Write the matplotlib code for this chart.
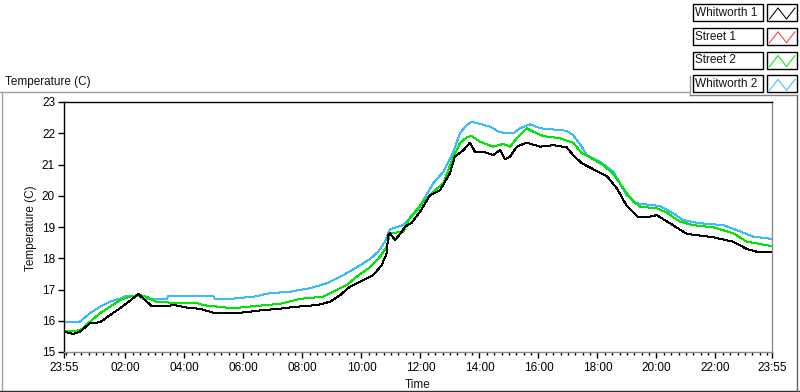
import matplotlib
matplotlib.use("Agg")
import matplotlib.pyplot as plt
from matplotlib.lines import Line2D
from matplotlib.patches import Rectangle
import numpy as np

plt.rcParams['font.family'] = ['Liberation Sans', 'DejaVu Sans']

# ---------------- data (hours elapsed since 23:55, temperature in C) ----------------
series_names = ["Whitworth 1", "Street 1", "Street 2", "Whitworth 2"]
series_colors = ["#000000", "#ff3c3c", "#00e600", "#3cbcf4"]

whitworth1_t = [0.00, 0.32, 0.54, 0.88, 1.22, 1.56, 1.90, 2.24, 2.52, 2.75, 2.97, 3.42, 3.76,
                4.16, 4.61, 5.06, 5.63, 6.14, 6.64, 7.26, 7.89, 8.57, 9.02, 9.36, 9.69, 10.15,
                10.48, 10.77, 10.94, 10.99, 11.05, 11.22, 11.39, 11.56, 11.79, 12.07, 12.41,
                12.75, 13.08, 13.25, 13.54, 13.76, 13.93, 14.21, 14.55, 14.78, 14.95, 15.12,
                15.35, 15.68, 16.14, 16.59, 17.04, 17.26, 17.55, 17.94, 18.40, 18.74, 19.07,
                19.47, 19.86, 20.09, 20.54, 21.11, 22.01, 22.69, 23.14, 23.48, 24.00]
whitworth1_v = [15.65, 15.58, 15.65, 15.92, 15.95, 16.18, 16.40, 16.64, 16.86, 16.66, 16.47, 16.47, 16.50,
                16.42, 16.38, 16.26, 16.24, 16.27, 16.33, 16.38, 16.45, 16.50, 16.61, 16.82, 17.09, 17.30,
                17.46, 17.78, 18.16, 18.74, 18.80, 18.58, 18.77, 19.01, 19.14, 19.49, 20.02,
                20.18, 20.72, 21.25, 21.46, 21.70, 21.41, 21.41, 21.30, 21.46, 21.17, 21.25,
                21.57, 21.70, 21.57, 21.62, 21.55, 21.30, 21.04, 20.85, 20.63, 20.24, 19.68,
                19.31, 19.33, 19.38, 19.12, 18.78, 18.67, 18.53, 18.30, 18.21, 18.19]

street1_t = []
street1_v = []

street2_t = [0.00, 0.43, 0.65, 0.88, 1.22, 1.56, 1.90, 2.24, 2.52, 2.80, 3.14, 4.50, 4.72, 5.73,
             6.47, 7.32, 7.55, 8.00, 8.79, 9.24, 9.58, 9.92, 10.37, 10.71, 10.94, 11.05, 11.50,
             11.73, 12.18, 12.52, 12.86, 13.20, 13.42, 13.65, 13.82, 14.10, 14.55, 14.89, 15.12,
             15.35, 15.68, 15.91, 16.25, 16.81, 17.26, 17.55, 17.83, 18.28, 18.62, 18.96, 19.30,
             19.53, 20.09, 20.43, 20.88, 21.33, 22.01, 22.69, 23.14, 24.00]
street2_v = [15.67, 15.67, 15.76, 15.97, 16.24, 16.45, 16.66, 16.77, 16.83, 16.77, 16.59, 16.57, 16.50, 16.40,
             16.47, 16.54, 16.59, 16.70, 16.77, 16.98, 17.14, 17.41, 17.71, 18.05, 18.37, 18.80, 18.85,
             19.30, 19.81, 20.13, 20.40, 21.25, 21.68, 21.87, 21.91, 21.73, 21.57, 21.66, 21.57,
             21.84, 22.16, 22.05, 21.91, 21.84, 21.70, 21.36, 21.23, 20.98, 20.70, 20.24, 19.81,
             19.65, 19.60, 19.46, 19.17, 19.06, 18.99, 18.80, 18.53, 18.39]

whitworth2_t = [0.00, 0.54, 0.88, 1.22, 1.56, 1.90, 2.13, 2.52, 2.69, 3.48, 3.54, 5.06, 5.12,
                5.63, 6.42, 6.98, 7.66, 8.34, 8.91, 9.47, 9.92, 10.37, 10.65, 10.88, 11.05, 11.50,
                11.73, 12.01, 12.18, 12.52, 12.86, 13.20, 13.42, 13.65, 13.82, 14.10, 14.44, 14.78,
                15.23, 15.46, 15.80, 16.14, 16.81, 17.04, 17.26, 17.55, 17.72, 18.17, 18.62, 19.07,
                19.41, 20.20, 20.65, 20.98, 21.56, 22.35, 22.80, 23.37, 24.00]
whitworth2_v = [15.97, 15.97, 16.24, 16.45, 16.61, 16.71, 16.80, 16.80, 16.69, 16.69, 16.80, 16.80, 16.69,
                16.70, 16.77, 16.88, 16.93, 17.04, 17.20, 17.46, 17.71, 17.97, 18.21, 18.53, 18.93, 19.06,
                19.30, 19.55, 19.86, 20.40, 20.77, 21.41, 22.00, 22.26, 22.37, 22.30, 22.21, 22.03,
                22.00, 22.16, 22.29, 22.16, 22.10, 22.08, 21.94, 21.57, 21.30, 21.09, 20.77, 20.02,
                19.76, 19.67, 19.44, 19.22, 19.12, 19.06, 18.90, 18.69, 18.62]

x_tick_labels = ["23:55", "02:00", "04:00", "06:00", "08:00", "10:00", "12:00",
                 "14:00", "16:00", "18:00", "20:00", "22:00", "23:55"]
y_ticks = [15, 16, 17, 18, 19, 20, 21, 22, 23]

# ---------------- figure ----------------
W, H = 800, 392
fig = plt.figure(figsize=(W / 100, H / 100), dpi=100)
fig.patch.set_facecolor("white")

def fx(x):
    return x / W

def fy(y):
    return 1 - y / H

ax = fig.add_axes([fx(64), fy(352), (772 - 64) / W, (352 - 102) / H])

series = [(whitworth2_t, whitworth2_v, 3), (street2_t, street2_v, 2),
          (street1_t, street1_v, 1), (whitworth1_t, whitworth1_v, 0)]
for t, v, i in series:
    ax.plot(t, v, color=series_colors[i], lw=0.72, antialiased=False)

start_min = 23 * 60 + 55
def to_hours(lbl, idx):
    h, m = map(int, lbl.split(":"))
    val = ((h * 60 + m - start_min) % 1440) / 60.0
    if idx == len(x_tick_labels) - 1:
        val = 24.0
    return val

major_pos = [to_hours(l, i) for i, l in enumerate(x_tick_labels)]
minor_pos = [p for p in np.arange(5 / 60, 24, 0.25) if min(abs(p - q) for q in major_pos) > 1e-6]

ax.set_xlim(0, 24)
ax.set_ylim(15, 23)
ax.set_xticks(major_pos)
ax.set_xticklabels(x_tick_labels)
ax.set_xticks(minor_pos, minor=True)
ax.set_yticks(y_ticks)
ax.set_yticklabels([str(v) for v in y_ticks])

ax.tick_params(axis="x", which="major", direction="out", length=4.5, width=1,
               labelsize=8.5, pad=3, color="#000000")
ax.tick_params(axis="x", which="minor", direction="out", length=2.5, width=1, color="#000000")
ax.tick_params(axis="y", which="major", direction="out", length=4, width=1,
               labelsize=8.5, pad=2.5, color="#000000")

ax.spines["left"].set_color("#000000")
ax.spines["top"].set_color("#000000")
ax.spines["right"].set_color("#8c8c8c")
ax.spines["bottom"].set_color("#8c8c8c")
for s in ax.spines.values():
    s.set_linewidth(1)

fig.text(fx(31), fy(228), "Temperature (C)", rotation=90, ha="center", va="center",
         fontsize=8.5, color="#1a1010")
fig.text(fx(418), fy(385), "Time", ha="center", va="center", fontsize=8.5, color="#1a1010")
fig.text(fx(5), fy(82), "Temperature (C)", ha="left", va="center", fontsize=8.5, color="#1a1010")

# ---------------- frame lines ----------------
def fline(xs, ys, color, lw=1.0):
    fig.add_artist(Line2D([fx(x) for x in xs], [fy(y) for y in ys],
                          transform=fig.transFigure, color=color, lw=lw))

fline([0, 689], [92, 92], "#a0a0a0")
fline([1.5, 1.5], [92, 390], "#a0a0a0")
fline([0, 799], [390.5, 390.5], "#303030")
fline([797, 797], [95, 390.5], "#606060")
fline([690, 690], [76, 95], "#a0a0a0")
fline([690, 797], [95, 95], "#808080")

# ---------------- legend ----------------
for i, name in enumerate(series_names):
    top = 4 + i * 23.8
    fig.add_artist(Rectangle((fx(692.5), fy(top + 17)), 70 / W, 17 / H,
                             transform=fig.transFigure, facecolor="white",
                             edgecolor="#000000", lw=1))
    fig.text(fx(695), fy(top + 8.8), name, ha="left", va="center", fontsize=8.5, color="#1a1010")
    fig.add_artist(Rectangle((fx(767), fy(top + 17)), 30 / W, 17 / H,
                             transform=fig.transFigure, facecolor="white",
                             edgecolor="#000000", lw=1))
    zx = [769.5, 778, 786.5, 795]
    zy = [top + 15, top + 4, top + 15, top + 4]
    fig.add_artist(Line2D([fx(x) for x in zx], [fy(y) for y in zy],
                          transform=fig.transFigure, color=series_colors[i], lw=0.75))

fig.savefig("out.png", dpi=100, facecolor="white")
